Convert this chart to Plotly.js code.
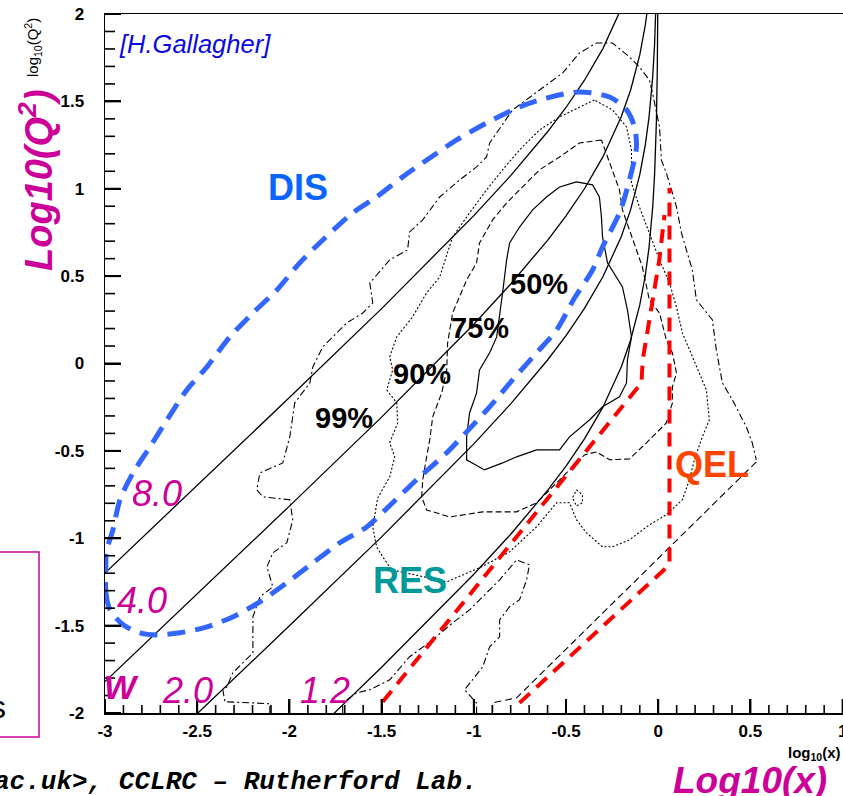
<!DOCTYPE html>
<html>
<head>
<meta charset="utf-8">
<script src="https://cdn.plot.ly/plotly-3.0.1.min.js"></script>
<style>
  html, body { margin: 0; padding: 0; background: #fff; overflow: hidden; }
  #chart { width: 843px; height: 796px; }
</style>
</head>
<body>
<div id="chart"></div>
<script>
// Axis ticks (log10 x and log10 Q^2)
const xTickVals = [-3, -2.5, -2, -1.5, -1, -0.5, 0, 0.5, 1];
const xTickText = ["-3", "-2.5", "-2", "-1.5", "-1", "-0.5", "0", "0.5", "1"];
const yTickVals = [-2, -1.5, -1, -0.5, 0, 0.5, 1, 1.5, 2];
const yTickText = ["-2", "-1.5", "-1", "-0.5", "0", "0.5", "1", "1.5", "2"];
const xMinorTicks = [-2.9, -2.8, -2.7, -2.6, -2.4, -2.3, -2.2, -2.1, -1.9, -1.8, -1.7, -1.6, -1.4, -1.3, -1.2, -1.1,
                     -0.9, -0.8, -0.7, -0.6, -0.4, -0.3, -0.2, -0.1, 0.1, 0.2, 0.3, 0.4, 0.6, 0.7, 0.8, 0.9];
const yMinorTicks = [-1.9, -1.8, -1.7, -1.6, -1.4, -1.3, -1.2, -1.1, -0.9, -0.8, -0.7, -0.6, -0.4, -0.3, -0.2, -0.1,
                     0.1, 0.2, 0.3, 0.4, 0.6, 0.7, 0.8, 0.9, 1.1, 1.2, 1.3, 1.4, 1.6, 1.7, 1.8, 1.9];

// Lines of constant invariant mass W (GeV)
const w8X  = [-3, -2.5, -2, -1.5, -1, -0.8, -0.6, -0.5, -0.4, -0.3, -0.2];
const w8Y  = [-1.199, -0.698, -0.195, 0.314, 0.846, 1.075, 1.326, 1.465, 1.621, 1.802, 2.033];
const w4X  = [-3, -2, -1.5, -1, -0.8, -0.6, -0.5, -0.4, -0.3, -0.2, -0.15, -0.1, -0.07, -0.05];
const w4Y  = [-1.820, -0.816, -0.307, 0.225, 0.455, 0.705, 0.845, 1.000, 1.182, 1.413, 1.564, 1.766, 1.937, 2.093];
const w2X  = [-2.5, -2, -1.5, -1, -0.8, -0.6, -0.5, -0.4, -0.3, -0.2, -0.15, -0.1, -0.07, -0.05, -0.03, -0.02, -0.01];
const w2Y  = [-2.004, -1.501, -0.992, -0.460, -0.231, 0.020, 0.159, 0.315, 0.496, 0.727, 0.879, 1.081, 1.251, 1.408, 1.640, 1.821, 2.127];
const w12X = [-1.76, -1.5, -1, -0.8, -0.6, -0.5, -0.4, -0.3, -0.2, -0.15, -0.1, -0.07, -0.05, -0.03, -0.02, -0.01, -0.005, -0.003, -0.002];
const w12Y = [-2.004, -1.738, -1.206, -0.977, -0.726, -0.587, -0.431, -0.250, -0.019, 0.133, 0.335, 0.505, 0.662, 0.894, 1.075, 1.381, 1.685, 1.907, 2.084];

// Event density contours
const c50X = [-0.443, -0.356, -0.319, -0.308, -0.302, -0.275, -0.194, -0.167, -0.145, -0.167, -0.172, -0.210, -0.302, -0.373, -0.481, -0.535, -0.660, -0.768, -0.844, -0.942, -1.039, -1.039, -1.023, -0.985, -0.969, -0.914, -0.876, -0.860, -0.844, -0.822, -0.806, -0.752, -0.681, -0.606, -0.535, -0.443];
const c50Y = [1.039, 1.022, 0.953, 0.839, 0.724, 0.576, 0.438, 0.307, 0.152, 0.021, -0.111, -0.191, -0.248, -0.323, -0.420, -0.494, -0.494, -0.534, -0.569, -0.609, -0.551, -0.420, -0.283, -0.168, -0.037, 0.061, 0.152, 0.267, 0.404, 0.593, 0.690, 0.781, 0.879, 0.953, 1.010, 1.039];

const c75X = [-0.308, -0.427, -0.535, -0.644, -0.752, -0.822, -0.898, -0.969, -0.985, -1.039, -1.115, -1.142, -1.147, -1.174, -1.223, -1.239, -1.256, -1.277, -1.283, -1.256, -1.131, -0.952, -0.768, -0.660, -0.589, -0.481, -0.400, -0.335, -0.264, -0.156, -0.064, 0.044, 0.077, 0.077, 0.099, 0.077, 0.044, 0.007, -0.048, -0.086, -0.118, -0.156, -0.194, -0.210, -0.248, -0.281, -0.308];
const c75Y = [1.279, 1.262, 1.182, 1.108, 0.993, 0.919, 0.822, 0.690, 0.576, 0.478, 0.289, 0.118, -0.037, -0.168, -0.305, -0.437, -0.534, -0.666, -0.763, -0.838, -0.878, -0.849, -0.849, -0.797, -0.723, -0.609, -0.523, -0.506, -0.551, -0.546, -0.454, -0.340, -0.225, -0.134, -0.054, 0.061, 0.135, 0.289, 0.364, 0.553, 0.650, 0.764, 0.879, 0.993, 1.108, 1.205, 1.279];

const c90X = [-0.346, -0.427, -0.535, -0.644, -0.752, -0.844, -0.931, -1.023, -1.115, -1.147, -1.185, -1.256, -1.332, -1.418, -1.456, -1.440, -1.472, -1.418, -1.413, -1.456, -1.429, -1.456, -1.521, -1.548, -1.527, -1.494, -1.445, -1.147, -0.969, -0.806, -0.660, -0.551, -0.481, -0.443, -0.389, -0.302, -0.248, -0.156, -0.048, 0.044, 0.131, 0.169, 0.196, 0.239, 0.277, 0.261, 0.185, 0.131, 0.099, 0.061, 0.007, -0.048, -0.102, -0.145, -0.145, -0.172, -0.248, -0.346];
const c90Y = [1.508, 1.468, 1.411, 1.336, 1.222, 1.108, 0.993, 0.862, 0.724, 0.621, 0.495, 0.404, 0.267, 0.152, 0.038, -0.037, -0.151, -0.225, -0.340, -0.454, -0.534, -0.649, -0.769, -0.935, -1.049, -1.106, -1.181, -1.249, -1.169, -1.078, -0.935, -0.797, -0.797, -0.895, -0.969, -1.049, -1.049, -1.009, -0.923, -0.866, -0.780, -0.666, -0.551, -0.420, -0.323, -0.151, 0.038, 0.175, 0.324, 0.461, 0.593, 0.747, 0.896, 1.033, 1.222, 1.354, 1.451, 1.508];
const c90LoopX = [-0.443, -0.411, -0.411, -0.443, -0.465, -0.443];
const c90LoopY = [-0.723, -0.752, -0.797, -0.815, -0.769, -0.723];

const c99X = [-2.106, -2.106, -2.198, -2.350, -2.361, -2.339, -2.307, -2.198, -2.198, -2.160, -2.090, -2.122, -2.090, -2.014, -1.982, -1.998, -2.144, -2.177, -2.160, -2.036, -1.998, -1.971, -1.889, -1.873, -1.819, -1.689, -1.602, -1.548, -1.564, -1.456, -1.359, -1.348, -1.277, -1.185, -1.077, -0.985, -0.931, -0.914, -0.790, -0.644, -0.519, -0.427, -0.335, -0.248, -0.156, -0.102, -0.048, -0.031, -0.010, 0.007, 0.017, 0.044, 0.077, 0.099, 0.126, 0.153, 0.185, 0.207, 0.294, 0.315, 0.348, 0.402, 0.478, 0.510, 0.532];
const c99Y = [-2.0, -1.947, -1.942, -1.936, -1.867, -1.850, -1.770, -1.656, -1.450, -1.335, -1.278, -1.164, -1.084, -1.026, -0.895, -0.780, -0.763, -0.723, -0.626, -0.569, -0.420, -0.225, -0.111, -0.019, 0.095, 0.232, 0.289, 0.347, 0.461, 0.593, 0.650, 0.753, 0.822, 0.953, 1.050, 1.125, 1.182, 1.262, 1.451, 1.565, 1.662, 1.777, 1.834, 1.834, 1.754, 1.697, 1.622, 1.548, 1.434, 1.354, 1.165, 1.090, 0.976, 0.896, 0.747, 0.650, 0.535, 0.364, 0.249, 0.078, -0.111, -0.208, -0.363, -0.454, -0.551];
const c99EdgeX = [0.532, -0.768, -0.898, -0.898];
const c99EdgeY = [-0.563, -1.913, -1.942, -2.0];
const c99InnerX = [-1.711, -1.711, -1.635, -1.564, -1.456, -1.348, -1.223, -1.115, -1.023, -0.931, -0.860, -0.768, -0.698, -0.714, -0.752, -0.806, -0.860, -0.860, -0.914, -0.952, -1.023, -1.050, -0.985, -0.985];
const c99InnerY = [-2.0, -1.942, -1.884, -1.867, -1.810, -1.678, -1.581, -1.484, -1.410, -1.312, -1.238, -1.124, -1.152, -1.238, -1.352, -1.392, -1.467, -1.564, -1.621, -1.736, -1.827, -1.867, -1.942, -2.0];

// Process regions: DIS ellipse and QEL boundaries
const disX = [-2.995, -2.995, -2.973, -2.902, -2.810, -2.718, -2.594, -2.447, -2.307, -2.160, -2.014, -1.873, -1.727, -1.581, -1.440, -1.294, -1.147, -1.039, -0.914, -0.790, -0.660, -0.551, -0.454, -0.356, -0.302, -0.210, -0.156, -0.118, -0.129, -0.172, -0.264, -0.427, -0.606, -0.752, -0.931, -1.093, -1.239, -1.386, -1.527, -1.657, -1.819, -1.944, -2.068, -2.198, -2.323, -2.447, -2.556, -2.664, -2.756, -2.848, -2.919, -2.957, -2.995, -2.995];
const disY = [-1.124, -1.312, -1.410, -1.495, -1.541, -1.553, -1.541, -1.507, -1.450, -1.364, -1.255, -1.141, -1.026, -0.935, -0.797, -0.649, -0.511, -0.391, -0.248, -0.094, 0.061, 0.192, 0.375, 0.535, 0.667, 0.862, 1.050, 1.239, 1.354, 1.451, 1.525, 1.554, 1.519, 1.468, 1.376, 1.279, 1.176, 1.068, 0.953, 0.862, 0.707, 0.576, 0.421, 0.289, 0.152, -0.019, -0.151, -0.323, -0.477, -0.626, -0.780, -0.952, -1.084, -1.124];
const qelInnerX = [-1.494, -0.091, -0.084, -0.057, -0.030, 0.006, 0.034];
const qelInnerY = [-1.936, -0.111, 0.021, 0.209, 0.364, 0.593, 0.850];
const qelOuterX = [-0.752, 0.061, 0.061];
const qelOuterY = [-1.942, -1.152, 1.005];

const MAGENTA = "#cc0099";
const SANS = "Liberation Sans, Arial, sans-serif";
const X_RANGE = [-3, 1.002], Y_RANGE = [-2, 2];
const PLOT_W = 738, PLOT_H = 699;   // frame size in pixels
const X_PER_PX = (X_RANGE[1] - X_RANGE[0]) / PLOT_W;
const Y_PER_PX = (Y_RANGE[1] - Y_RANGE[0]) / PLOT_H;

function line(x, y, color, width, dash, shape) {
  return {
    type: "scatter", mode: "lines", x: x, y: y,
    line: { color: color, width: width, dash: dash || "solid", shape: shape || "linear", smoothing: 0.8 },
    hoverinfo: "skip", showlegend: false
  };
}

// Tick marks drawn inward from the bottom and left edges, one segment per tick
function tickTrace(vals, lenPx, axis, width) {
  const xs = [], ys = [];
  vals.forEach(v => {
    if (axis === "x") { xs.push(v, v, null); ys.push(Y_RANGE[0], Y_RANGE[0] + lenPx * Y_PER_PX, null); }
    else { xs.push(X_RANGE[0], X_RANGE[0] + lenPx * X_PER_PX, null); ys.push(v, v, null); }
  });
  return { type: "scatter", mode: "lines", x: xs, y: ys, connectgaps: false,
           line: { color: "#000", width: width }, hoverinfo: "skip", showlegend: false };
}

const traces = [
  line(c99X, c99Y, "#000", 1.1, "7px,3px,2px,3px"),
  line(c99EdgeX, c99EdgeY, "#000", 1.1, "7px,4px"),
  line(c99InnerX, c99InnerY, "#000", 1.1, "7px,3px,2px,3px"),
  line(c90X, c90Y, "#000", 1.1, "2px,2px"),
  line(c90LoopX, c90LoopY, "#000", 1.1, "2px,2px"),
  line(c75X, c75Y, "#000", 1.1, "6px,3px"),
  line(c50X, c50Y, "#000", 1.2, "solid"),
  line(w8X, w8Y, "#000", 1.3, "solid"),
  line(w4X, w4Y, "#000", 1.3, "solid"),
  line(w2X, w2Y, "#000", 1.3, "solid"),
  line(w12X, w12Y, "#000", 1.3, "solid"),
  line(qelInnerX, qelInnerY, "#ff0000", 4, "14px,9px"),
  line(qelOuterX, qelOuterY, "#ff0000", 4, "14px,9px"),
  line(disX, disY, "#3366ff", 5, "18px,10px", "spline"),
  tickTrace(xTickVals, 14, "x", 2),
  tickTrace(xMinorTicks, 8, "x", 1.6),
  tickTrace(yTickVals, 16, "y", 2),
  tickTrace(yMinorTicks, 10, "y", 1.6)
];

const plainFont = (size, color) => ({ family: SANS, size: size, color: color });
const boldFont = (size, color) => ({ family: SANS, size: size, color: color, weight: "bold" });
const biFont = (size, color) => ({ family: SANS, size: size, color: color, weight: "bold", style: "italic" });
const iFont = (size, color) => ({ family: SANS, size: size, color: color, style: "italic" });

function label(text, x, y, font, opts) {
  return Object.assign({
    text: text, x: x, y: y, xref: "x", yref: "y", showarrow: false,
    xanchor: "center", yanchor: "middle", font: font
  }, opts || {});
}
function pageText(text, x, y, font, opts) {
  return Object.assign({
    text: text, x: x, y: y, xref: "paper", yref: "paper", showarrow: false,
    xanchor: "center", yanchor: "middle", font: font
  }, opts || {});
}

const annotations = [
  label("[H.Gallagher]", -2.937, 1.828, iFont(25.5, "#0a0adc"), { xanchor: "left" }),
  label("DIS", -1.955, 1.005, boldFont(36, "#0a64ff")),
  label("50%", -0.644, 0.455, boldFont(29, "#000")),
  label("75%", -0.969, 0.204, boldFont(29, "#000")),
  label("90%", -1.283, -0.059, boldFont(29, "#000")),
  label("99%", -1.705, -0.311, boldFont(29, "#000")),
  label("QEL", 0.294, -0.580, boldFont(36, "#ff4400")),
  label("RES", -1.348, -1.244, boldFont(36, "#009999")),
  label("8.0", -2.718, -0.746, iFont(36, MAGENTA)),
  label("4.0", -2.800, -1.358, iFont(36, MAGENTA)),
  label("W", -2.913, -1.850, biFont(34, MAGENTA)),
  label("2.0", -2.550, -1.873, iFont(36, MAGENTA)),
  label("1.2", -1.808, -1.873, iFont(36, MAGENTA)),
  // axis titles and page text outside the frame
  pageText("Log10(Q<sup>2</sup>)", -0.0935, 0.7625, biFont(38, MAGENTA), { textangle: -90 }),
  pageText("log<sub>10</sub>(Q<sup>2</sup>)", -0.0975, 0.9514, plainFont(15, "#000"), { textangle: -90 }),
  pageText("Log10(x)", 0.874, -0.0965, biFont(37, MAGENTA)),
  pageText("log<sub>10</sub>(x)", 1.0, -0.0575, boldFont(15, "#000"), { xanchor: "right" }),
  pageText("ac.uk>, CCLRC \u2013 Rutherford Lab.", -0.1531, -0.0985,
    { family: "Liberation Mono, Courier New, monospace", size: 26, color: "#000", weight: "bold", style: "italic" },
    { xanchor: "left" }),
  pageText("s", -0.1314, 0.0086, plainFont(32, "#000"), { xanchor: "right" })
];

const shapes = [
  { type: "rect", xref: "paper", yref: "paper", x0: -0.16, x1: -0.0894, y0: -0.0343, y1: 0.2303,
    line: { color: MAGENTA, width: 1.5 }, fillcolor: "rgba(255,255,255,0)" }
];

const tickFont = { family: SANS, size: 17, color: "#000", weight: "bold" };

const layout = {
  width: 843, height: 796,
  margin: { l: 105, r: 0, t: 14, b: 83, pad: 0 },
  paper_bgcolor: "#fff", plot_bgcolor: "#fff",
  showlegend: false, hovermode: false,
  xaxis: {
    range: X_RANGE, showgrid: false, zeroline: false,
    showline: true, linecolor: "#000", linewidth: 1.5, mirror: true,
    tickmode: "array", tickvals: xTickVals, ticktext: xTickText,
    ticks: "inside", ticklen: 14, tickwidth: 2, tickcolor: "#000",
    tickfont: tickFont, ticklabelstandoff: 2, ticklabeloverflow: "allow"
  },
  yaxis: {
    range: Y_RANGE, showgrid: false, zeroline: false,
    showline: true, linecolor: "#000", linewidth: 1.5, mirror: false,
    tickmode: "array", tickvals: yTickVals, ticktext: yTickText,
    ticks: "inside", ticklen: 16, tickwidth: 2, tickcolor: "#000",
    tickfont: tickFont, ticklabelstandoff: 16
  },
  annotations: annotations,
  shapes: shapes
};

Plotly.newPlot("chart", traces, layout, { displayModeBar: false, staticPlot: true });
</script>
</body>
</html>
